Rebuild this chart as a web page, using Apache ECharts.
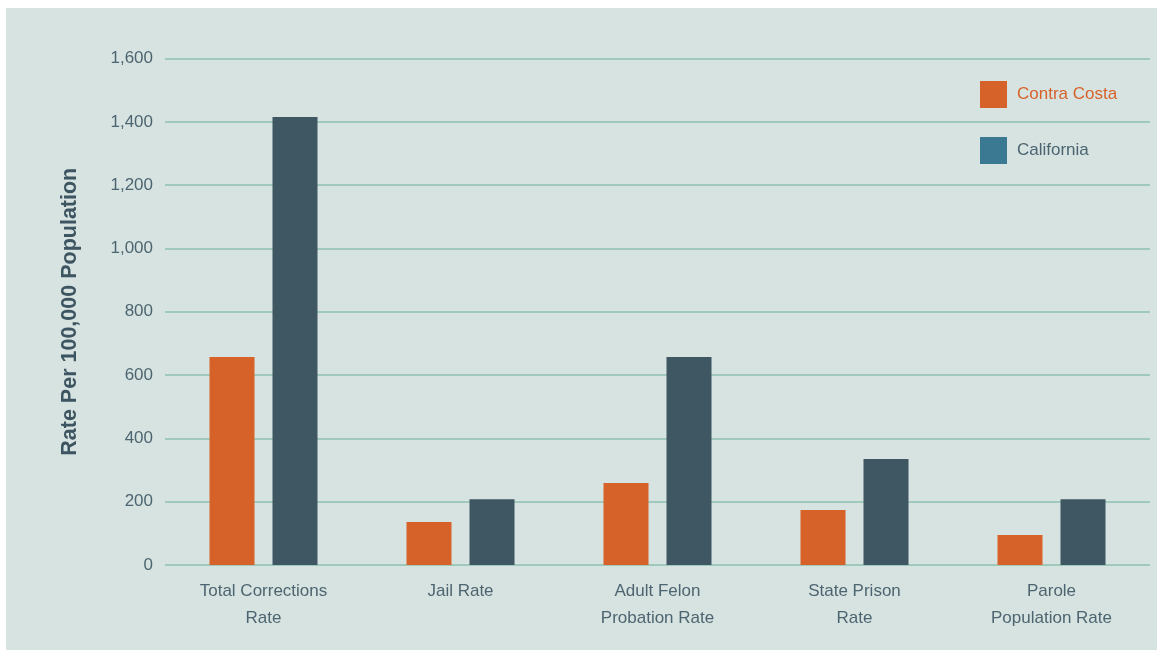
<!DOCTYPE html>
<html>
<head>
<meta charset="utf-8">
<script src="https://cdn.jsdelivr.net/npm/echarts@6/dist/echarts.min.js"></script>
<style>
html,body{margin:0;padding:0;background:#ffffff;width:1157px;height:650px;overflow:hidden;}
#chart{position:absolute;left:6px;top:8px;width:1151px;height:642px;background:#d7e3e1;}
</style>
</head>
<body>
<div id="chart"></div>
<script>
var categories = ['Total Corrections\nRate', 'Jail Rate', 'Adult Felon\nProbation Rate', 'State Prison\nRate', 'Parole\nPopulation Rate'];
var contraCosta = [657, 136, 259, 174, 95];
var california = [1415, 208, 657, 335, 208];
var seriesNames = ['Contra Costa', 'California'];
var yAxisTitle = 'Rate Per 100,000 Population';

var FONT = 'Liberation Sans';
var chart = echarts.init(document.getElementById('chart'), null, {renderer: 'canvas'});
chart.setOption({
  backgroundColor: '#d7e3e1',
  animation: false,
  grid: {left: 159, right: 7, top: 50.5, bottom: 85},
  legend: {
    orient: 'vertical',
    left: 969, top: 68,
    itemWidth: 27, itemHeight: 27, itemGap: 29,
    icon: 'rect',
    textStyle: {fontFamily: FONT, fontSize: 17, padding: [0, 0, 0, 5]},
    data: [
      {name: seriesNames[0], itemStyle: {color: '#d76229'}, textStyle: {color: '#d76229'}},
      {name: seriesNames[1], itemStyle: {color: '#3b7892'}, textStyle: {color: '#4a6470'}}
    ]
  },
  xAxis: {
    type: 'category',
    data: categories,
    axisLine: {show: false},
    axisTick: {show: false},
    axisLabel: {color: '#4d6570', fontFamily: FONT, fontSize: 17, lineHeight: 27, margin: 13}
  },
  yAxis: {
    type: 'value',
    min: 0, max: 1600, interval: 200,
    name: yAxisTitle,
    nameLocation: 'middle',
    nameGap: 84,
    nameTextStyle: {color: '#3d5561', fontFamily: FONT, fontSize: 21.5, fontWeight: 'bold'},
    axisLine: {show: false},
    axisTick: {show: false},
    axisLabel: {color: '#4d6570', fontFamily: FONT, fontSize: 17, margin: 12,
      formatter: function (v) { return v.toLocaleString('en-US'); }},
    splitLine: {lineStyle: {color: '#8cc2ae', width: 1.5}}
  },
  series: [
    {name: seriesNames[0], type: 'bar', data: contraCosta, barWidth: 45, barGap: '40%',
     itemStyle: {color: '#d76229'}},
    {name: seriesNames[1], type: 'bar', data: california, barWidth: 45,
     itemStyle: {color: '#3f5763'}}
  ]
});
</script>
</body>
</html>
